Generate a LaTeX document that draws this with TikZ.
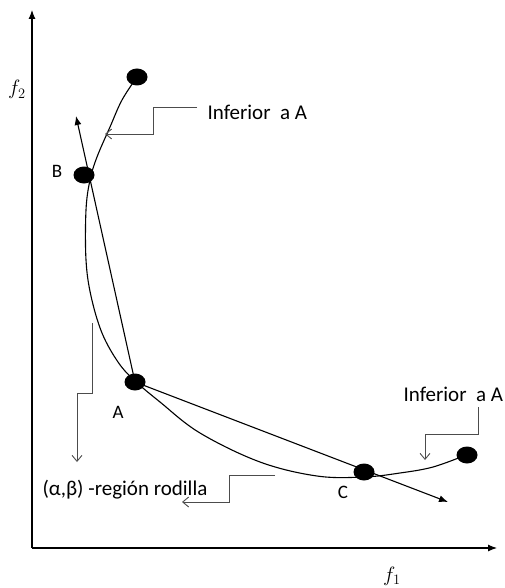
\documentclass[tikz,border=0pt]{standalone}
\usepackage{fontspec}
\setmainfont{Carlito}
\usetikzlibrary{arrows.meta,shapes.geometric}

\begin{document}
\begin{tikzpicture}[x=1pt, y=-1pt, line width=1.1pt,
  punto/.style={ellipse, fill=black, minimum width=21pt, minimum height=17pt, inner sep=0pt},
  nota/.style={gray!60!black, line width=0.9pt, -{Straight Barb[length=6pt,width=10pt]}},
  texto/.style={inner sep=0pt, anchor=base west, font=\fontsize{21}{25}\selectfont},
  letra/.style={inner sep=0pt, anchor=base, font=\fontsize{19}{23}\selectfont}]

% Marco (en pixeles, y hacia abajo)
\useasboundingbox (0,0) rectangle (505,588);

% ---------- Ejes ----------
\coordinate (O) at (32,548);
\coordinate (ejeY) at (32,10);
\coordinate (ejeX) at (497,548);
\draw[-{Latex[length=9pt,width=7pt]}] (O) -- (ejeY);
\draw[-{Latex[length=9pt,width=7pt]}] (O) -- (ejeX);
\node[inner sep=0pt, anchor=base, font=\fontsize{22}{26}\selectfont] (f2) at (17,95) {$f_2$};
\node[inner sep=0pt, anchor=base, font=\fontsize{22}{26}\selectfont] (f1) at (392,581) {$f_1$};

% ---------- Frente (curva) ----------
\draw plot[smooth, tension=0.6] coordinates {
  (137,77) (122,100) (110,127) (97,157) (90,180) (86,210) (86,260)
  (91,296) (102,333) (118,362) (134,380) (160,402) (200,433)
  (260,462) (317,476) (364,477) (400,473) (433,467) (466,455)};

% ---------- Puntos ----------
\node[punto] (P1) at (137,77) {};
\node[punto] (B) at (84,175) {};
\node[punto] (A) at (135,382) {};
\node[punto] (C) at (364,472) {};
\node[punto] (P2) at (467,455) {};

\node[letra] (lB) at (57,178) {B};
\node[letra] (lA) at (118,418) {A};
\node[letra] (lC) at (343,498) {C};

% ---------- Rectas por A ----------
\coordinate (pB) at (76,116);
\coordinate (pC) at (448,502);
\draw[-{Latex[length=9pt,width=7pt]}] (A.center) -- (pB);
\draw[-{Latex[length=9pt,width=7pt]}] (A.center) -- (pC);

% ---------- Anotaciones ----------
\node[texto] (inf1) at (207,120) {Inferior \ a A};
\node[texto] (inf2) at (403,401) {Inferior \ a A};
\node[texto] (rod) at (42,495) {(α,β) -región rodilla};

\coordinate (n1) at (197,107);
\draw[nota] (n1) -- ++(-44,0) -- ++(0,27) -- ++(-48,0);
\coordinate (n2) at (478,407);
\draw[nota] (n2) -- ++(0,27) -- ++(-53,0) -- ++(0,26);
\coordinate (n3) at (92,323);
\draw[nota] (n3) -- ++(0,70) -- ++(-15,0) -- ++(0,69);
\coordinate (n4) at (275,475);
\draw[nota] (n4) -- ++(-46,0) -- ++(0,27) -- ++(-47,0);

\end{tikzpicture}
\end{document}
